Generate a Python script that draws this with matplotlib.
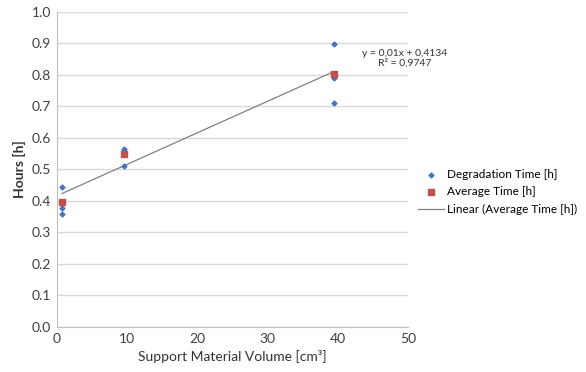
import matplotlib.pyplot as plt
import numpy as np

plt.rcParams['font.family'] = ['Lato', 'DejaVu Sans']

# valores
vol = [0.75, 9.6, 39.5]
degradacion_x = [0.75, 0.75, 0.75, 9.6, 9.6, 9.6, 39.5, 39.5, 39.5]
degradacion_y = [0.445, 0.377, 0.359, 0.565, 0.558, 0.511, 0.898, 0.789, 0.712]
promedio = [0.396, 0.548, 0.803]
ecuacion = "y = 0,01x + 0,4134\nR² = 0,9747"

azul = '#4472C4'
rojo = '#C0504D'

fig = plt.figure(figsize=(5.86, 3.72), dpi=100)
ax = fig.add_axes([0.097, 0.121, 0.599, 0.847])

ax.scatter(degradacion_x, degradacion_y, marker='D', s=6, color=azul,
           label='Degradation Time [h]', zorder=3)
ax.scatter(vol, promedio, marker='s', s=18, color=rojo,
           label='Average Time [h]', zorder=4)

m, b = np.polyfit(vol, promedio, 1)
xs = np.array([vol[0], vol[-1]])
ax.plot(xs, m * xs + b, color='#808080', lw=0.9,
        label='Linear (Average Time [h])', zorder=2)

ax.text(49.5, 0.853, ecuacion, ha='center', va='center', fontsize=7.5,
        color='#333333', linespacing=1.15, clip_on=False)

ax.set_xlim(0, 50)
ax.set_ylim(0, 1.0)
ax.set_xticks(range(0, 51, 10))
ax.set_yticks(np.arange(0, 1.01, 0.1))
ax.set_yticklabels([f"{v:.1f}" for v in np.arange(0, 1.01, 0.1)])
ax.grid(axis='y', color='#d9d9d9', lw=1)
ax.set_axisbelow(True)
for s in ['top', 'right']:
    ax.spines[s].set_visible(False)
for s in ['left', 'bottom']:
    ax.spines[s].set_color('#bfbfbf')
ax.tick_params(length=0, labelsize=10, colors='#404040', pad=4)

ax.set_xlabel('Support Material Volume [cm³]', fontsize=10, color='#333333')
ax.set_ylabel('Hours [h]', fontsize=10, color='#333333', fontweight='bold')

fig.legend(loc='center left', bbox_to_anchor=(0.705, 0.484), frameon=False,
           fontsize=8.5, handlelength=2.2, handletextpad=0.3,
           labelspacing=0.55, borderaxespad=0)

fig.savefig('out.png', dpi=100)
